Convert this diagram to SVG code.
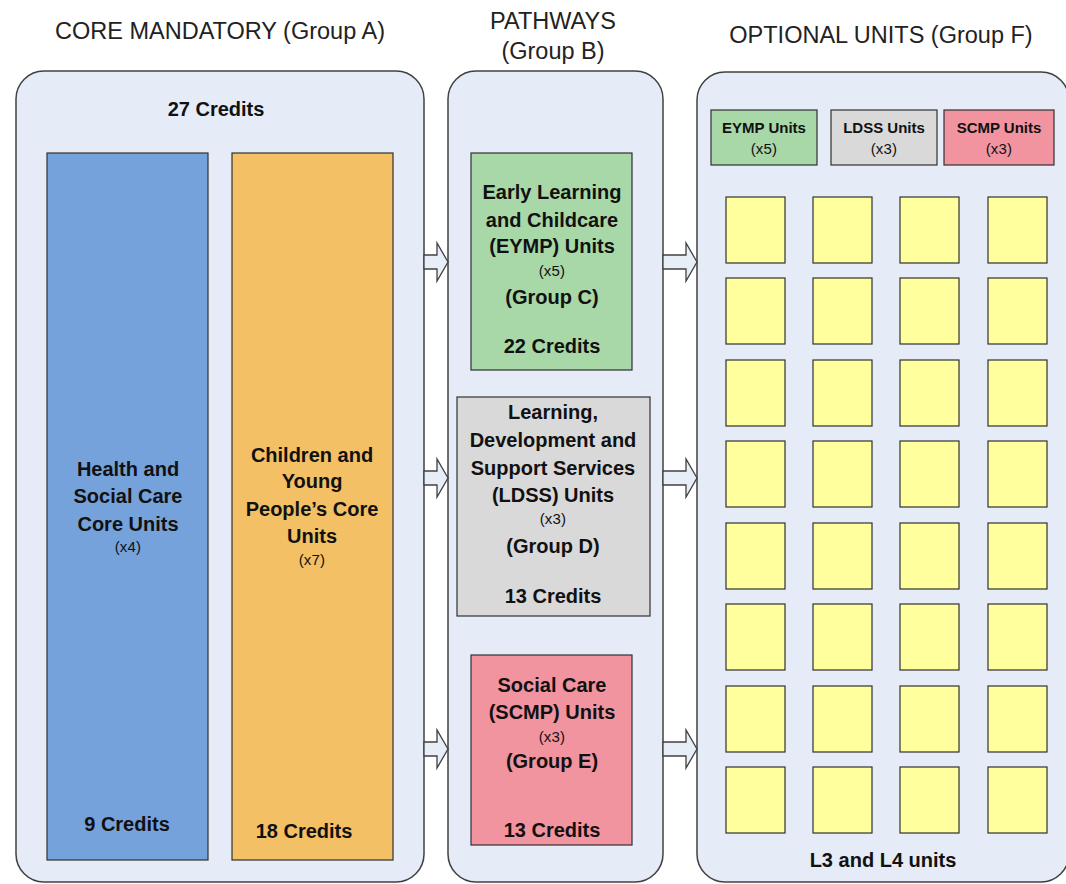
<svg xmlns="http://www.w3.org/2000/svg" width="1066" height="884" viewBox="0 0 1066 884">
<style>
text{font-family:"Liberation Sans",Arial,sans-serif;fill:#111;text-anchor:middle}
.title{font-size:23.5px;fill:#222}
.b{font-size:20px;font-weight:bold}
.s{font-size:15px;letter-spacing:0.2px}
.hb{font-size:15px;font-weight:bold}
.cont{fill:#E6ECF7;stroke:#404040;stroke-width:1.5}
.box{stroke:#303030;stroke-width:1.2}
.blue{fill:#76A2DC}.orange{fill:#F3C065}.green{fill:#A8D8A8}.gray{fill:#D9D9D9}.pink{fill:#F294A0}
.unit{fill:#FFFF9E;stroke:#303030;stroke-width:1.2}
.arrow{fill:#E8EEF8;stroke:#404040;stroke-width:1.3;stroke-linejoin:miter}
</style>
<defs>
<rect id="u" class="unit" width="59" height="66"/>
<polygon id="al" class="arrow" points="424,-7 437,-7 437,-19 448,0 437,19 437,7 424,7"/>
<polygon id="ar" class="arrow" points="663,-7 686,-7 686,-19 697,0 686,19 686,7 663,7"/>
</defs>

<text class="title" x="220" y="39">CORE MANDATORY (Group A)</text>
<text class="title" x="553" y="29">PATHWAYS</text>
<text class="title" x="553" y="59">(Group B)</text>
<text class="title" x="881" y="43">OPTIONAL UNITS (Group F)</text>

<g id="groupA">
<rect class="cont" x="16" y="71" width="408" height="811" rx="28"/>
<text class="b" x="216" y="116">27 Credits</text>
</g>
<g id="groupB">
<rect class="cont" x="448" y="71" width="215" height="811" rx="28"/>
</g>
<g id="groupF">
<rect class="cont" x="697" y="72" width="372" height="810" rx="28"/>
<text class="b" x="883" y="867">L3 and L4 units</text>
</g>

<g id="connectors">
<use href="#al" y="262"/>
<use href="#al" y="478"/>
<use href="#al" y="749"/>
<use href="#ar" y="262"/>
<use href="#ar" y="478"/>
<use href="#ar" y="749"/>
</g>

<g id="hsc">
<rect class="box blue" x="47" y="153" width="161" height="707"/>
<text class="b" x="128" y="476">Health and</text>
<text class="b" x="128" y="503">Social Care</text>
<text class="b" x="128" y="531">Core Units</text>
<text class="s" x="128" y="552">(x4)</text>
<text class="b" x="127" y="831">9 Credits</text>
</g>

<g id="cyp">
<rect class="box orange" x="232" y="153" width="161" height="707"/>
<text class="b" x="312" y="462">Children and</text>
<text class="b" x="312" y="488">Young</text>
<text class="b" x="312" y="516">People’s Core</text>
<text class="b" x="312" y="543">Units</text>
<text class="s" x="312" y="565">(x7)</text>
<text class="b" x="304" y="838">18 Credits</text>
</g>

<g id="eymp">
<rect class="box green" x="471" y="153" width="161" height="217"/>
<text class="b" x="552" y="199">Early Learning</text>
<text class="b" x="552" y="227">and Childcare</text>
<text class="b" x="552" y="253">(EYMP) Units</text>
<text class="s" x="552" y="276">(x5)</text>
<text class="b" x="552" y="304">(Group C)</text>
<text class="b" x="552" y="353">22 Credits</text>
</g>

<g id="ldss">
<rect class="box gray" x="457" y="397" width="193" height="219"/>
<text class="b" x="553" y="419">Learning,</text>
<text class="b" x="553" y="447">Development and</text>
<text class="b" x="553" y="475">Support Services</text>
<text class="b" x="553" y="502">(LDSS) Units</text>
<text class="s" x="553" y="524">(x3)</text>
<text class="b" x="553" y="553">(Group D)</text>
<text class="b" x="553" y="603">13 Credits</text>
</g>

<g id="scmp">
<rect class="box pink" x="471" y="655" width="161" height="190"/>
<text class="b" x="552" y="692">Social Care</text>
<text class="b" x="552" y="719">(SCMP) Units</text>
<text class="s" x="552" y="742">(x3)</text>
<text class="b" x="552" y="768">(Group E)</text>
<text class="b" x="552" y="837">13 Credits</text>
</g>

<g id="key-eymp">
<rect class="box green" x="711" y="110" width="106" height="55"/>
<text class="hb" x="764" y="133">EYMP Units</text>
<text class="s" x="764" y="154">(x5)</text>
</g>
<g id="key-ldss">
<rect class="box gray" x="831" y="110" width="106" height="55"/>
<text class="hb" x="884" y="133">LDSS Units</text>
<text class="s" x="884" y="154">(x3)</text>
</g>
<g id="key-scmp">
<rect class="box pink" x="944" y="110" width="110" height="55"/>
<text class="hb" x="999" y="133">SCMP Units</text>
<text class="s" x="999" y="154">(x3)</text>
</g>

<g id="optional-units">
<use href="#u" x="726" y="197"/><use href="#u" x="813" y="197"/><use href="#u" x="900" y="197"/><use href="#u" x="988" y="197"/>
<use href="#u" x="726" y="278"/><use href="#u" x="813" y="278"/><use href="#u" x="900" y="278"/><use href="#u" x="988" y="278"/>
<use href="#u" x="726" y="360"/><use href="#u" x="813" y="360"/><use href="#u" x="900" y="360"/><use href="#u" x="988" y="360"/>
<use href="#u" x="726" y="441"/><use href="#u" x="813" y="441"/><use href="#u" x="900" y="441"/><use href="#u" x="988" y="441"/>
<use href="#u" x="726" y="523"/><use href="#u" x="813" y="523"/><use href="#u" x="900" y="523"/><use href="#u" x="988" y="523"/>
<use href="#u" x="726" y="604"/><use href="#u" x="813" y="604"/><use href="#u" x="900" y="604"/><use href="#u" x="988" y="604"/>
<use href="#u" x="726" y="686"/><use href="#u" x="813" y="686"/><use href="#u" x="900" y="686"/><use href="#u" x="988" y="686"/>
<use href="#u" x="726" y="767"/><use href="#u" x="813" y="767"/><use href="#u" x="900" y="767"/><use href="#u" x="988" y="767"/>
</g>
</svg>
